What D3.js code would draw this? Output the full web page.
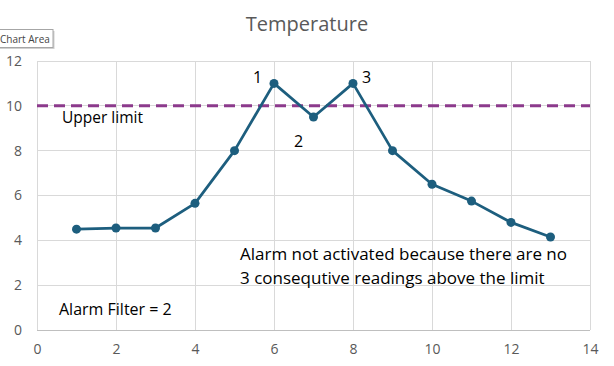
<!DOCTYPE html>
<html><head><meta charset="utf-8">
<script src="https://cdn.jsdelivr.net/npm/d3@7"></script>
<style>body{margin:0;background:#fff}svg{display:block}</style>
</head><body>
<script>
const xValues = [1,2,3,4,5,6,7,8,9,10,11,12,13];
const temperature = [4.5,4.55,4.55,5.65,8,11,9.5,11,8,6.5,5.75,4.8,4.15];
const upperLimit = 10;
const xTicks = [0,2,4,6,8,10,12,14];
const yTicks = [0,2,4,6,8,10,12];

const W=614,H=366;
const svg=d3.select("body").append("svg").attr("width",W).attr("height",H);
const font="'Open Sans', sans-serif";
const x=d3.scaleLinear().domain([0,14]).range([37,590]);
const y=d3.scaleLinear().domain([0,12]).range([330,61]);

// gridlines
svg.append("g").selectAll("line").data(yTicks).join("line")
  .attr("x1",x(0)).attr("x2",x(14)).attr("y1",d=>y(d)).attr("y2",d=>y(d))
  .attr("stroke",d=>d===0?"#bfbfbf":"#d9d9d9").attr("stroke-width",1).attr("shape-rendering","crispEdges");
svg.append("g").selectAll("line").data(xTicks).join("line")
  .attr("x1",d=>x(d)).attr("x2",d=>x(d)).attr("y1",y(0)).attr("y2",y(12))
  .attr("stroke","#d9d9d9").attr("stroke-width",1).attr("shape-rendering","crispEdges");

// axes labels
const xAxis=d3.axisBottom(x).tickValues(xTicks).tickSize(0).tickPadding(14);
const gx=svg.append("g").attr("transform",`translate(0,${y(0)})`).call(xAxis);
gx.select(".domain").remove();
gx.selectAll("text").attr("fill","#595959").style("font-size","14px").style("font-family",font);
const yAxis=d3.axisLeft(y).tickValues(yTicks).tickSize(0).tickPadding(15);
const gy=svg.append("g").attr("transform",`translate(${x(0)},0)`).call(yAxis);
gy.select(".domain").remove();
gy.selectAll("text").attr("fill","#595959").style("font-size","14px").style("font-family",font);

// upper limit
svg.append("line").attr("x1",x(0)).attr("x2",x(14)).attr("y1",y(upperLimit)).attr("y2",y(upperLimit))
  .attr("stroke","#8C3A8C").attr("stroke-width",3).attr("stroke-dasharray","11,6");

// series
const pts=xValues.map((v,i)=>[v,temperature[i]]);
svg.append("path").datum(pts).attr("fill","none").attr("stroke","#1D5E7E").attr("stroke-width",2.75)
  .attr("stroke-linejoin","round").attr("d",d3.line().x(d=>x(d[0])).y(d=>y(d[1])));
svg.append("g").selectAll("circle").data(pts).join("circle")
  .attr("cx",d=>x(d[0])).attr("cy",d=>y(d[1])).attr("r",4.5).attr("fill","#1D5E7E");

// title
svg.append("text").attr("x",307).attr("y",31).attr("text-anchor","middle").attr("fill","#595959")
  .style("font-size","20px").style("font-family",font).text("Temperature");

// annotations
const ann=svg.append("g").style("font-family",font).style("font-size","17px").attr("fill","#000");
ann.append("text").attr("x",62).attr("y",123).style("font-size","15.5px").text("Upper limit");
ann.append("text").attr("x",253).attr("y",83).style("font-size","16px").text("1");
ann.append("text").attr("x",294).attr("y",147).style("font-size","16px").text("2");
ann.append("text").attr("x",362).attr("y",83).style("font-size","16px").text("3");
ann.append("text").attr("x",240).attr("y",260).text("Alarm not activated because there are no");
ann.append("text").attr("x",240).attr("y",284).text("3 consequtive readings above the limit");
ann.append("text").attr("x",59).attr("y",315).style("font-size","16px").text("Alarm Filter = 2");

// tooltip
const tip=svg.append("g");
tip.append("rect").attr("x",-2).attr("y",29.5).attr("width",55).attr("height",18).attr("fill","#d0d0d0").attr("transform","translate(1.5,1.5)");
tip.append("rect").attr("x",-2).attr("y",29.5).attr("width",55).attr("height",18).attr("fill","#fff").attr("stroke","#a6a6a6");
tip.append("text").attr("x",0).attr("y",43).attr("fill","#444").style("font-size","10px").style("font-family",font).text("Chart Area");
</script>
</body></html>
